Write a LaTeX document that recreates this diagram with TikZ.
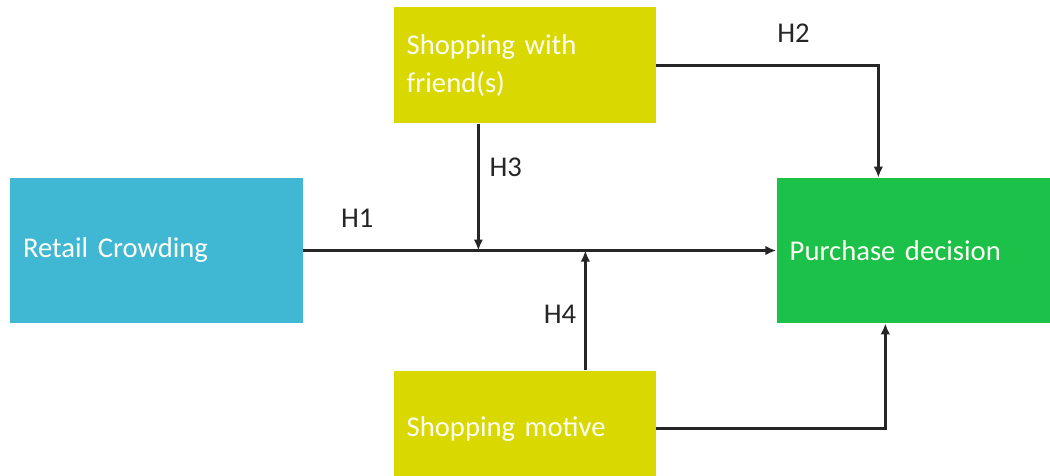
\documentclass[tikz,border=0pt]{standalone}
\usepackage{fontspec}
\setmainfont{Carlito}
\usetikzlibrary{positioning, arrows.meta}

\definecolor{crowdblue}{HTML}{40B8D4}
\definecolor{friendyellow}{HTML}{D9D800}
\definecolor{decisiongreen}{HTML}{1BC148}
\definecolor{linegray}{HTML}{262626}

\begin{document}
\begin{tikzpicture}[
  mybox/.style={
     rectangle,
     text=white!96!yellow,
     inner xsep=0.26cm,
     inner ysep=0pt,
     align=left,
     minimum height=#1,
     font=\fontsize{16.3}{21.6}\selectfont},
  mylabel/.style={inner sep=0pt, text=linegray,
     font=\fontsize{16.3}{21.6}\selectfont},
  myarrow/.style={draw=linegray, line width=1.4pt,
     -{Latex[length=2.2mm,width=1.9mm]}}
  ]
  \useasboundingbox (0,0) rectangle (21,-9.52);

  % boxes
  \node[mybox=2.9cm, fill=crowdblue, text width=5.34cm] (retail) at (3.13,-5.01) {Retail Crowding};
  \node[mybox=2.9cm, fill=decisiongreen, text width=4.96cm, right=9.46cm of retail] (purchase) {Purchase decision};
  \node[mybox=2.32cm, fill=friendyellow, text width=4.72cm, above right=1.08cm and 1.8cm of retail] (friends) {Shopping with\\friend(s)};
  \node[mybox=2.32cm, fill=friendyellow, text width=4.72cm, below right=0.94cm and 1.8cm of retail] (motive) {Shopping motive};

  % helper points
  \coordinate (h3top) at ([xshift=1.7cm]friends.south west);
  \coordinate (h3end) at (h3top |- retail.east);
  \coordinate (h4bot) at ([xshift=3.84cm]motive.north west);
  \coordinate (h4end) at (h4bot |- retail.east);
  \coordinate (h2in) at ([xshift=2.04cm]purchase.north west);
  \coordinate (motin) at ([xshift=2.18cm]purchase.south west);

% edges
\draw [myarrow] (retail.east) -- node[mylabel, pos=0.114, above=0.44cm] {H1} (purchase.west);
\draw [myarrow] (friends.east) -| node[mylabel, pos=0.309, above=0.44cm] {H2} (h2in);
\draw [myarrow] (h3top) -- node[mylabel, pos=0.344, right=0.2cm] {H3} (h3end);
\draw [myarrow] (h4bot) -- node[mylabel, pos=0.466, left=0.16cm] {H4} (h4end);
\draw [myarrow] (motive.east) -| (motin);

\end{tikzpicture}
\end{document}
